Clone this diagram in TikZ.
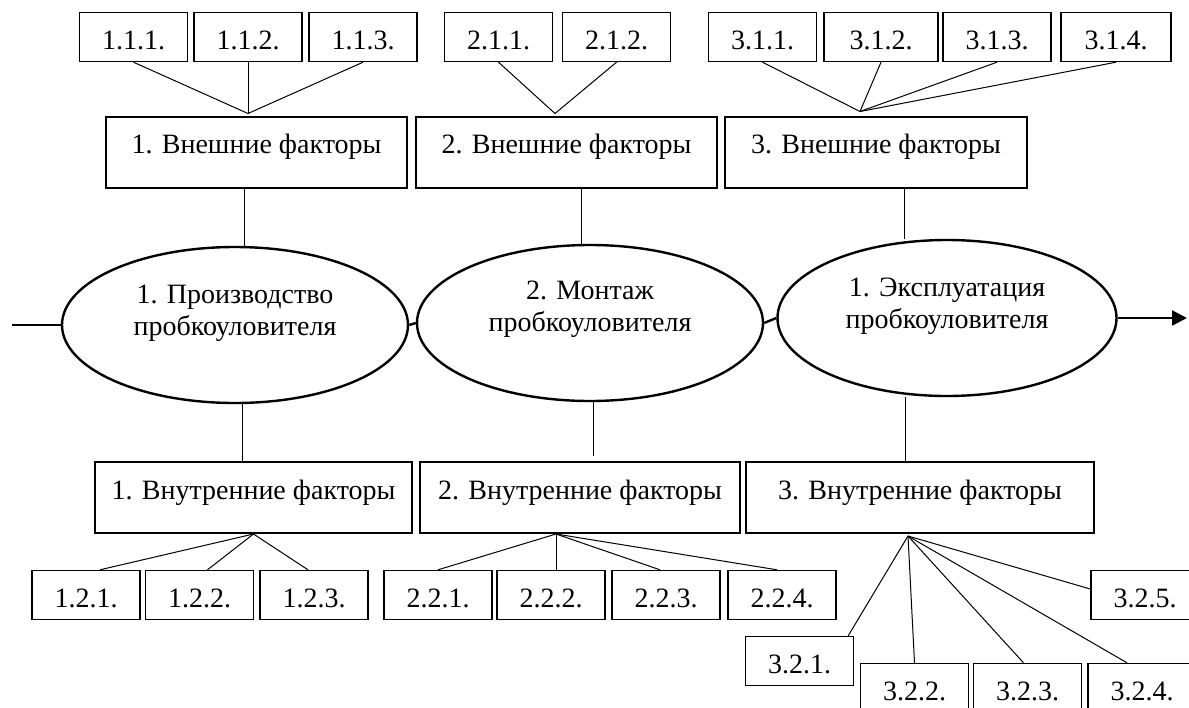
\documentclass[tikz,border=0pt]{standalone}
\usepackage{fontspec}
\setmainfont{Liberation Serif}
\usetikzlibrary{shapes.geometric,arrows.meta}

\tikzset{
  factor/.style={draw, line width=1pt, minimum height=35.5pt, inner sep=0pt,
    text height=10pt, text depth=8.5pt},
  item/.style={draw, line width=0.7pt, minimum width=54pt, minimum height=24.5pt,
    inner sep=0pt, text height=12.5pt, text depth=0pt},
  stage/.style={draw, ellipse, line width=1.2pt, minimum height=78pt, inner sep=0pt},
  stagetext/.style={align=center},
  link/.style={line width=0.5pt},
  flow/.style={line width=1.2pt}
}

\begin{document}
\begin{tikzpicture}[x=0.5pt, y=-0.5pt, font=\fontsize{14}{16}\selectfont]
  \clip (0,0) rectangle (1189,707);

  % stages
  \node[stage, minimum width=173pt] (proc1) at (235,325) {};
  \node[stage, minimum width=173pt] (proc2) at (590,323) {};
  \node[stage, minimum width=169.5pt] (proc3) at (947,318) {};
  \node[stagetext] (proc1txt) at ([yshift=6pt]proc1) {1. Производство\\пробкоуловителя};
  \node[stagetext] (proc2txt) at ([yshift=7pt]proc2) {2. Монтаж\\пробкоуловителя};
  \node[stagetext] (proc3txt) at ([yshift=6pt]proc3) {1. Эксплуатация\\пробкоуловителя};

  \coordinate (start) at (12,325);
  \coordinate (finish) at (1187,318);
  \draw[flow] (start) -- (proc1.west);
  \draw[flow] (proc1.east) -- (proc2.west);
  \draw[flow] (proc2.east) -- (proc3.west);
  \draw[flow, -{Triangle[length=7.5pt,width=7.5pt]}] (proc3.east) -- (finish);

  % external factors
  \node[factor, minimum width=150.5pt] (ext1) at (256.5,152) {1. Внешние факторы};
  \node[factor, minimum width=150.5pt] (ext2) at (566.5,152) {2. Внешние факторы};
  \node[factor, minimum width=151pt] (ext3) at (876,152) {3. Внешние факторы};

  \node[item] (f111) at (133.5,37) {1.1.1.};
  \node[item] (f112) at (248,37) {1.1.2.};
  \node[item] (f113) at (363,37) {1.1.3.};
  \node[item] (f211) at (498.5,37) {2.1.1.};
  \node[item] (f212) at (616.5,37) {2.1.2.};
  \node[item] (f311) at (762.5,37) {3.1.1.};
  \node[item, minimum width=57pt] (f312) at (881,37) {3.1.2.};
  \node[item] (f313) at (997,37) {3.1.3.};
  \node[item, minimum width=55pt] (f314) at (1116,37) {3.1.4.};

  \coordinate (hub1) at ([xshift=-4.25pt,yshift=1pt]ext1.north);
  \coordinate (hub2) at ([xshift=-5.75pt,yshift=1pt]ext2.north);
  \coordinate (hub3) at ([xshift=-8pt,yshift=2pt]ext3.north);
  \foreach \n in {111,112,113} \draw[link] (f\n.south) -- (hub1);
  \foreach \n in {211,212} \draw[link] (f\n.south) -- (hub2);
  \foreach \n in {311,312,313,314} \draw[link] (f\n.south) -- (hub3);

  \coordinate (v1) at ([xshift=-6.25pt]ext1.south);
  \coordinate (v2) at ([xshift=7.25pt]ext2.south);
  \coordinate (v3) at ([xshift=14pt]ext3.south);
  \draw[link] (v1) -- (v1 |- proc1.north);
  \draw[link] (v2) -- (v2 |- proc2.north);
  \draw[link] (v3) -- (v3 |- proc3.north);

  % internal factors
  \node[factor, minimum width=158.5pt] (int1) at (253.5,497.5) {1. Внутренние факторы};
  \node[factor, minimum width=160pt] (int2) at (580,497.5) {2. Внутренние факторы};
  \node[factor, minimum width=174pt] (int3) at (920,497.5) {3. Внутренние факторы};

  \coordinate (w1) at ([xshift=-5.75pt]int1.north);
  \coordinate (w2) at ([xshift=6.5pt,yshift=2.5pt]int2.north);
  \coordinate (w3) at ([xshift=-7.5pt]int3.north);
  \draw[link] (w1) -- (w1 |- proc1.south);
  \draw[link] (w2) -- (w2 |- proc2.south);
  \draw[link] (w3) -- (w3 |- proc3.south);

  \node[item] (f121) at (86,595) {1.2.1.};
  \node[item] (f122) at (199.5,595) {1.2.2.};
  \node[item] (f123) at (314,595) {1.2.3.};
  \node[item] (f221) at (438,595) {2.2.1.};
  \node[item] (f222) at (551,595) {2.2.2.};
  \node[item] (f223) at (666,595) {2.2.3.};
  \node[item] (f224) at (782,595) {2.2.4.};
  \node[item] (f325) at (1145,595) {3.2.5.};
  \node[item] (f321) at (799.5,661) {3.2.1.};
  \node[item] (f322) at (914.5,688) {3.2.2.};
  \node[item] (f323) at (1027.5,688) {3.2.3.};
  \node[item] (f324) at (1142,688) {3.2.4.};

  \coordinate (low1) at (int1.south);
  \coordinate (low2) at ([xshift=-12pt]int2.south);
  \coordinate (low3) at ([xshift=-6pt,yshift=-1pt]int3.south);
  \draw[link] (low1) -- ([xshift=7pt]f121.north);
  \draw[link] (low1) -- ([xshift=4pt]f122.north);
  \draw[link] (low1) -- ([xshift=-3pt]f123.north);
  \draw[link] (low2) -- (f221.north);
  \draw[link] (low2) -- ([xshift=2.5pt]f222.north);
  \draw[link] (low2) -- ([xshift=-3pt]f223.north);
  \draw[link] (low2) -- ([xshift=-2.5pt]f224.north);
  \draw[link] (low3) -- ([xshift=-3pt]f321.north east);
  \draw[link] (low3) -- (f322.north);
  \draw[link] (low3) -- ([xshift=-2pt]f323.north);
  \draw[link] (low3) -- ([xshift=-7.5pt]f324.north);
  \draw[link] (low3) -- ([yshift=3pt]f325.west);
\end{tikzpicture}
\end{document}
